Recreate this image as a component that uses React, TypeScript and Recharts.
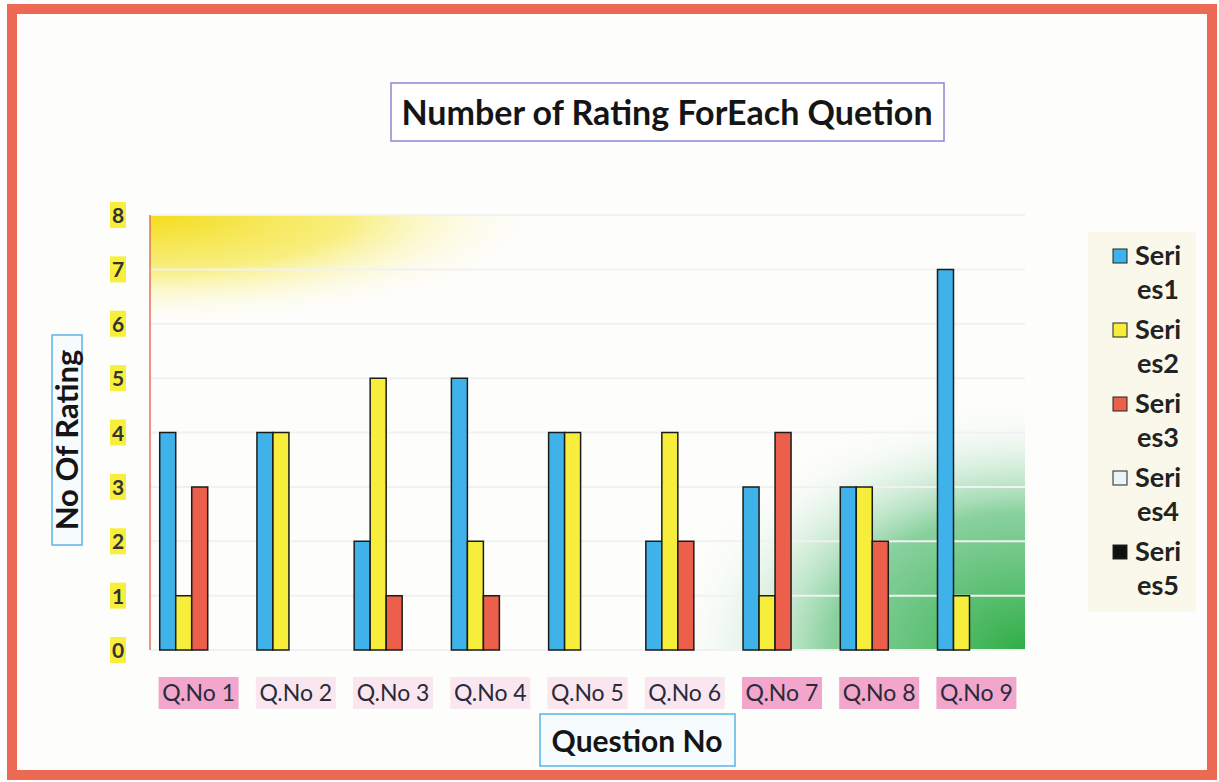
import React from 'react';
import { BarChart, Bar, XAxis, YAxis, CartesianGrid } from 'recharts';

const categories = ['Q.No 1', 'Q.No 2', 'Q.No 3', 'Q.No 4', 'Q.No 5', 'Q.No 6', 'Q.No 7', 'Q.No 8', 'Q.No 9'];
const series1 = [4, 4, 2, 5, 4, 2, 3, 3, 7];
const series2 = [1, 4, 5, 2, 4, 4, 1, 3, 1];
const series3 = [3, 0, 1, 1, 0, 2, 4, 2, 0];
const series4 = [0, 0, 0, 0, 0, 0, 0, 0, 0];
const series5 = [0, 0, 0, 0, 0, 0, 0, 0, 0];
const seriesNames = ['Series1', 'Series2', 'Series3', 'Series4', 'Series5'];
const yTicks = [0, 1, 2, 3, 4, 5, 6, 7, 8];
const strongPink = ['Q.No 1', 'Q.No 7', 'Q.No 8', 'Q.No 9'];

const colors = ['#3fb2ea', '#f6ee3a', '#ec5f4a', '#eaf4fb', '#111111'];
const FONT = 'Lato, "Open Sans", sans-serif';

const data = categories.map((c, i) => ({
  name: c,
  s1: series1[i],
  s2: series2[i],
  s3: series3[i],
  s4: series4[i],
  s5: series5[i],
}));
const keys = ['s1', 's2', 's3', 's4', 's5'];

const XTick = (props: any) => {
  const { x, y, payload } = props;
  const strong = strongPink.includes(payload.value);
  return (
    <g>
      <rect x={x - 40} y={y + 27} width={80} height={32} fill={strong ? '#f2a6cb' : '#f9e6ef'} />
      <text x={x} y={y + 51} textAnchor="middle" fontFamily={FONT} fontSize={23} fill="#2a2a3a">
        {payload.value}
      </text>
    </g>
  );
};

const YTick = (props: any) => {
  const { x, y, payload } = props;
  return (
    <g>
      <rect x={x - 40} y={y - 13} width={16} height={26} fill="#f7ef3c" />
      <text x={x - 32} y={y + 8} textAnchor="middle" fontFamily={FONT} fontWeight={700} fontSize={21} fill="#333">
        {payload.value}
      </text>
    </g>
  );
};

export default function App() {
  return (
    <div style={{ position: 'absolute', left: 0, top: 0, width: 1219, height: 782, background: '#fdfdfb', overflow: 'hidden' }}>
      <svg width={1219} height={782} style={{ position: 'absolute', left: 0, top: 0 }}>
        <defs>
          <radialGradient id="yel" cx="0" cy="0" r="1" gradientUnits="objectBoundingBox">
            <stop offset="0" stopColor="#f4dc1c" stopOpacity={1} />
            <stop offset="0.5" stopColor="#f6e84a" stopOpacity={0.7} />
            <stop offset="1" stopColor="#ffffff" stopOpacity={0} />
          </radialGradient>
          <radialGradient id="grn" cx="1" cy="1" r="1" gradientUnits="objectBoundingBox">
            <stop offset="0" stopColor="#2fae45" stopOpacity={1} />
            <stop offset="0.55" stopColor="#62c27f" stopOpacity={0.75} />
            <stop offset="1" stopColor="#ffffff" stopOpacity={0} />
          </radialGradient>
        </defs>
        <rect x={150} y={215} width={400} height={110} fill="url(#yel)" />
        <rect x={670} y={400} width={355} height={250} fill="url(#grn)" />
        <rect x={1088} y={232} width={108} height={380} fill="#faf8ea" />
        <rect x={12} y={9} width={1200} height={766} fill="none" stroke="#ec6954" strokeWidth={10} />
      </svg>
      <div style={{ position: 'absolute', left: 0, top: 0 }}>
        <BarChart
          width={1219}
          height={782}
          data={data}
          margin={{ top: 215, right: 194, bottom: 92, left: 100 }}
          barCategoryGap="10%"
          barGap={0}
        >
          <CartesianGrid vertical={false} stroke="#f1f1f1" strokeWidth={2} />
          <XAxis dataKey="name" height={40} axisLine={false} tickLine={false} tickSize={0} tickMargin={0} tick={<XTick />} interval={0} />
          <YAxis
            width={50}
            domain={[0, 8]}
            ticks={yTicks}
            axisLine={{ stroke: '#e0705e', strokeWidth: 1.5 }}
            tickLine={false}
            tickSize={0}
            tickMargin={0}
            tick={<YTick />}
          />
          {keys.map((k, i) => (
            <Bar key={k} dataKey={k} name={seriesNames[i]} fill={colors[i]} stroke="#1c1c1c" strokeWidth={1.5} isAnimationActive={false} />
          ))}
        </BarChart>
      </div>
      <svg width={1219} height={782} style={{ position: 'absolute', left: 0, top: 0, pointerEvents: 'none' }}>
        <rect x={391} y={83} width={553} height={58} fill="#ffffff" stroke="#8a86d6" strokeWidth={1.5} />
        <text x={667} y={125} textAnchor="middle" fontFamily={FONT} fontWeight={700} fontSize={34} fill="#151515">
          Number of Rating ForEach Quetion
        </text>
        <rect x={52} y={335} width={30} height={210} fill="#f6fbfe" stroke="#5ab4e6" strokeWidth={1.5} />
        <text x={0} y={0} transform="translate(78,440) rotate(-90)" textAnchor="middle" fontFamily={FONT} fontWeight={700} fontSize={31} fill="#151515">
          No Of Rating
        </text>
        <rect x={540} y={714} width={195} height={52} fill="#f6fbfe" stroke="#5ab4e6" strokeWidth={1.5} />
        <text x={637} y={752} textAnchor="middle" fontFamily={FONT} fontWeight={700} fontSize={30} fill="#151515">
          Question No
        </text>
        {seriesNames.map((n, i) => {
          const top = 258 + i * 74;
          return (
            <g key={n}>
              <rect x={1113} y={top - 9} width={14} height={14} fill={colors[i]} stroke="#222" strokeWidth={1} />
              <text x={1135} y={top + 7} fontFamily={FONT} fontWeight={700} fontSize={27} fill="#222">
                {n.slice(0, 4)}
              </text>
              <text x={1137} y={top + 41} fontFamily={FONT} fontWeight={700} fontSize={27} fill="#222">
                {n.slice(4)}
              </text>
            </g>
          );
        })}
      </svg>
    </div>
  );
}
